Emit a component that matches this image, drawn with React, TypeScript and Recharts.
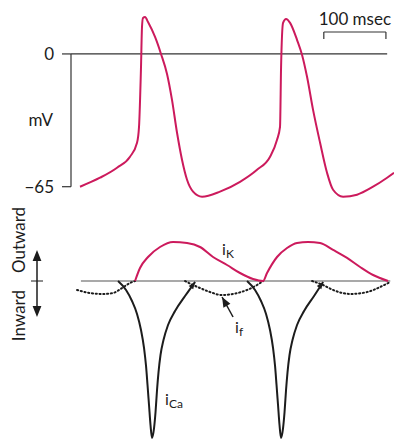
import { ComposedChart, Line, XAxis, YAxis, ReferenceLine, ReferenceDot } from 'recharts';

// time in msec, membrane potential in mV, currents in arbitrary units
const T_DOMAIN: [number, number] = [0, 520];
const V_DOMAIN: [number, number] = [-72, 22];
const I_DOMAIN: [number, number] = [-1, 0.3];
const V_TICKS = [0, -65];
const SCALE_BAR_MS = [407, 507];

const apT = [14.5, 46.7, 74.1, 95.0, 106.3, 109.5, 112.7, 114.3, 115.9, 119.2, 124.0, 135.3, 144.9, 154.6, 162.6, 170.7, 178.7, 186.8, 196.5, 211.0, 239.9, 272.1, 299.5, 320.5, 331.7, 336.5, 338.2, 341.4, 346.2, 352.7, 364.0, 372.0, 380.0, 389.7, 401.0, 412.2, 421.9, 438.0, 460.5, 486.3, 508.9, 520];
const apMv = [-65, -60.6, -55.7, -50.3, -43.5, -35.7, -6.4, 13.2, 17.6, 18.1, 15.6, 8.3, 0, -9.8, -22.5, -38.6, -51.8, -61.6, -67.4, -69.9, -67.4, -62.6, -56.7, -50.3, -42, -35.7, -6.4, 15.2, 17.1, 15.2, 6.8, -0.5, -11.2, -27.4, -43.5, -58.2, -66.5, -69.9, -68.9, -65, -60.6, -58.2];

const iKT = [103.1, 111.1, 124.0, 143.3, 164.3, 186.8, 207.7, 228.7, 251.2, 272.1, 293.1, 309.2, 315.6, 331.7, 347.8, 363.9, 381.6, 401.0, 421.9, 444.4, 465.4, 486.3, 510.5];
const iKVal = [0, 0.081, 0.15, 0.2125, 0.244, 0.2375, 0.2125, 0.15, 0.1, 0.05, 0.0125, 0, 0.05, 0.15, 0.206, 0.2375, 0.244, 0.2375, 0.194, 0.144, 0.0875, 0.0375, 0];

// null separates the two beats
const iCaT = [75.7, 88.6, 98.2, 106.3, 112.7, 117.6, 120.8, 123.2, 125.6, 128.0, 130.4, 133.7, 136.1, 138.5, 140.9, 144.1, 148.9, 156.2, 167.5, 183.6, 199.7, 240,
  283.4, 296.3, 305.9, 314.0, 320.4, 325.3, 328.5, 330.9, 333.3, 335.7, 338.1, 341.4, 343.8, 346.2, 348.6, 351.8, 356.6, 363.9, 375.2, 391.3, 406.0];
const iCaVal = [0, -0.056, -0.125, -0.206, -0.306, -0.419, -0.531, -0.65, -0.775, -0.9, -0.981, -0.919, -0.819, -0.681, -0.569, -0.4625, -0.369, -0.275, -0.1875, -0.094, -0.006, null,
  0, -0.056, -0.125, -0.206, -0.306, -0.419, -0.531, -0.65, -0.775, -0.9, -0.981, -0.919, -0.819, -0.681, -0.569, -0.4625, -0.369, -0.275, -0.1875, -0.094, -0.006];

const ifT = [9.7, 30.6, 51.5, 67.6, 82.1, 95.0, 103.1, 140,
  183.6, 196.5, 207.7, 223.8, 243.2, 260.9, 283.4, 299.5, 309.2, 350,
  388.1, 405.8, 421.9, 449.3, 476.6, 497.6, 513.7];
const ifVal = [-0.056, -0.075, -0.081, -0.075, -0.044, -0.0125, 0, null,
  0, -0.025, -0.044, -0.069, -0.0875, -0.081, -0.056, -0.025, 0, null,
  0, -0.025, -0.056, -0.081, -0.069, -0.0375, -0.006];

const BASELINE_T = [16, 514];
const IF_ARROW = [{ x: 243.2, y: -0.1 }, { x: 260.9, y: -0.225 }];
const CURRENT_LABELS = [
  { t: 243.2, i: 0.1625, main: 'i', sub: 'K' },
  { t: 151.4, i: -0.775, main: 'i', sub: 'Ca' },
  { t: 264.1, i: -0.325, main: 'i', sub: 'f' },
];

const MAGENTA = '#cc1a5c';
const INK = '#1c1c1c';
const GRAY = '#555';

const apData = apT.map((t, k) => ({ t, v: apMv[k] }));
const iKData = iKT.map((t, k) => ({ t, i: iKVal[k] }));
const breakAt = iCaVal.indexOf(null);
const iCaData = iCaT.map((t, k) => ({ t, i: iCaVal[k], head: k === breakAt - 1 || k === iCaT.length - 1 }));
const ifData = ifT.map((t, k) => ({ t, i: ifVal[k] }));

const minus = (v: number) => (v < 0 ? `\u2212${-v}` : `${v}`);

function ArrowHead({ x, y, angle, size = 8 }: { x: number; y: number; angle: number; size?: number }) {
  return (
    <polygon
      points={`0,0 ${-size},${-size * 0.4} ${-size},${size * 0.4}`}
      transform={`translate(${x},${y}) rotate(${angle})`}
      fill={INK}
    />
  );
}

function CaDot(props: any) {
  const { cx, cy, payload, index } = props;
  if (!payload?.head || cx == null || cy == null) return <g key={`d${index}`} />;
  return <ArrowHead key={`d${index}`} x={cx} y={cy} angle={-54} size={7} />;
}

function DirectionTick(props: any) {
  const { x, y } = props;
  const ax = x - 34;
  return (
    <g>
      <line x1={ax - 6} y1={y} x2={ax + 6} y2={y} stroke={INK} strokeWidth={1} />
      <line x1={ax} y1={y - 25} x2={ax} y2={y + 30} stroke={INK} strokeWidth={1.5} />
      <ArrowHead x={ax} y={y - 31} angle={-90} size={11} />
      <ArrowHead x={ax} y={y + 36} angle={90} size={11} />
      <text x={x - 46} y={y - 8} transform={`rotate(-90, ${x - 46}, ${y - 8})`} textAnchor="start" fontSize={17} fill={INK}>
        Outward
      </text>
      <text x={x - 46} y={y + 9} transform={`rotate(-90, ${x - 46}, ${y + 9})`} textAnchor="end" fontSize={17} fill={INK}>
        Inward
      </text>
    </g>
  );
}

function SubLabel({ cx, cy, main, sub }: { cx?: number; cy?: number; main: string; sub: string }) {
  return (
    <text x={cx} y={cy} fontSize={16} fill={INK}>
      {main}
      <tspan fontSize={12} dy={3}>{sub}</tspan>
    </text>
  );
}

function ArrowLine(props: any) {
  const { x1, y1, x2, y2 } = props;
  const ang = (Math.atan2(y1 - y2, x1 - x2) * 180) / Math.PI;
  return (
    <g>
      <line x1={x2} y1={y2} x2={x1} y2={y1} stroke={INK} strokeWidth={1.5} />
      <ArrowHead x={x1} y={y1} angle={ang} size={10} />
    </g>
  );
}

export default function App() {
  return (
    <div style={{ position: 'absolute', left: 0, top: 0, width: 394, height: 444, fontFamily: 'Lato, sans-serif', background: '#fff' }}>
      <div style={{ position: 'absolute', left: 0, top: 0 }}>
        <ComposedChart width={394} height={215} data={apData} margin={{ top: 9, right: 0, bottom: 14, left: 0 }}>
          <XAxis dataKey="t" type="number" domain={T_DOMAIN} hide allowDataOverflow />
          <YAxis
            type="number"
            domain={V_DOMAIN}
            ticks={V_TICKS}
            interval={0}
            width={71}
            axisLine={false}
            tickLine={{ stroke: '#333', strokeWidth: 1.2 }}
            tickSize={9}
            tickMargin={8}
            tickFormatter={minus}
            tick={{ fill: INK, fontSize: 17 }}
          />
          <ReferenceLine segment={[{ x: 0, y: 0 }, { x: 509, y: 0 }]} stroke="#333" strokeWidth={1.2} />
          <ReferenceLine
            segment={[{ x: 0, y: 0 }, { x: 0, y: -65 }]}
            stroke="#333"
            strokeWidth={1.2}
            label={{ value: 'mV', position: 'left', offset: 18, fill: INK, fontSize: 17 }}
          />
          <ReferenceLine
            segment={[{ x: SCALE_BAR_MS[0], y: 10.75 }, { x: SCALE_BAR_MS[1], y: 10.75 }]}
            stroke="#333"
            strokeWidth={1.2}
            label={{ value: '100 msec', position: 'top', offset: 7, fill: INK, fontSize: 17 }}
          />
          <ReferenceLine segment={[{ x: SCALE_BAR_MS[0], y: 10.75 }, { x: SCALE_BAR_MS[0], y: 7.3 }]} stroke="#333" strokeWidth={1.2} />
          <ReferenceLine segment={[{ x: SCALE_BAR_MS[1], y: 10.75 }, { x: SCALE_BAR_MS[1], y: 7.3 }]} stroke="#333" strokeWidth={1.2} />
          <Line type="monotone" dataKey="v" stroke={MAGENTA} strokeWidth={2} dot={false} isAnimationActive={false} />
        </ComposedChart>
      </div>
      <div style={{ position: 'absolute', left: 0, top: 195 }}>
        <ComposedChart width={394} height={249} margin={{ top: 38, right: 0, bottom: 3, left: 0 }}>
          <XAxis dataKey="t" type="number" domain={T_DOMAIN} hide allowDataOverflow />
          <YAxis
            type="number"
            domain={I_DOMAIN}
            ticks={[0]}
            width={71}
            axisLine={false}
            tickLine={false}
            tickSize={0}
            tickMargin={0}
            tick={(p: any) => <DirectionTick {...p} />}
          />
          <ReferenceLine segment={[{ x: BASELINE_T[0], y: 0 }, { x: BASELINE_T[1], y: 0 }]} stroke={GRAY} strokeWidth={1.2} />
          <Line data={ifData} type="monotone" dataKey="i" stroke={INK} strokeWidth={2} strokeDasharray="1.2 2.6" strokeLinecap="round" dot={false} connectNulls={false} isAnimationActive={false} />
          <Line data={iKData} type="monotone" dataKey="i" stroke={MAGENTA} strokeWidth={2} dot={false} isAnimationActive={false} />
          <Line data={iCaData} type="monotone" dataKey="i" stroke={INK} strokeWidth={2} dot={CaDot} connectNulls={false} isAnimationActive={false} />
          <ReferenceLine segment={IF_ARROW} shape={ArrowLine} />
          {CURRENT_LABELS.map((l) => (
            <ReferenceDot key={l.sub} x={l.t} y={l.i} r={0} shape={(p: any) => <SubLabel cx={p.cx} cy={p.cy} main={l.main} sub={l.sub} />} />
          ))}
        </ComposedChart>
      </div>
    </div>
  );
}
